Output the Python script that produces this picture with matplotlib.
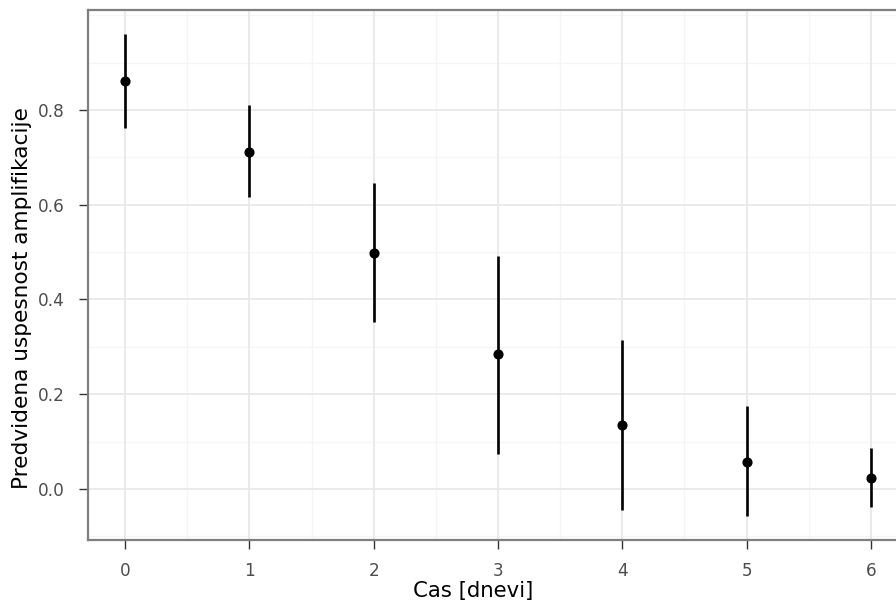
import matplotlib
matplotlib.use("Agg")
import matplotlib.pyplot as plt
import numpy as np

# Data
days = [0, 1, 2, 3, 4, 5, 6]
predicted = [0.861, 0.711, 0.498, 0.285, 0.135, 0.057, 0.023]
lower = [0.762, 0.616, 0.352, 0.074, -0.044, -0.057, -0.038]
upper = [0.960, 0.810, 0.646, 0.492, 0.314, 0.175, 0.086]

x_ticks = [0, 1, 2, 3, 4, 5, 6]
y_ticks = [0.0, 0.2, 0.4, 0.6, 0.8]
y_minor = [-0.1, 0.1, 0.3, 0.5, 0.7, 0.9, 1.0]
x_minor = [0.5, 1.5, 2.5, 3.5, 4.5, 5.5]

plt.rcParams['font.family'] = ['DejaVu Sans']

W, H = 896, 605
fig = plt.figure(figsize=(W / 100, H / 100), dpi=100)
left, right, top, bottom = 88, 908, 10, 540
ax = fig.add_axes([left / W, (H - bottom) / H, (right - left) / W, (bottom - top) / H])

ax.set_xlim(-0.298, 6.298)
ax.set_ylim(-0.1077, 1.011)

# grid
for v in y_minor:
    ax.axhline(v, color='#F5F5F5', lw=1.0, zorder=0)
for v in x_minor:
    ax.axvline(v, color='#F5F5F5', lw=1.0, zorder=0)
for v in y_ticks:
    ax.axhline(v, color='#E8E8E8', lw=1.3, zorder=0.5)
for v in x_ticks:
    ax.axvline(v, color='#E8E8E8', lw=1.3, zorder=0.5)

ax.vlines(days, lower, upper, color='black', lw=1.9, zorder=2)
ax.plot(days, predicted, 'o', color='black', ms=6.3, zorder=3)

ax.set_xticks(x_ticks)
ax.set_xticklabels([str(v) for v in x_ticks])
ax.set_yticks(y_ticks)
ax.set_yticklabels([f"{v:.1f}" for v in y_ticks])
ax.tick_params(axis='both', which='major', length=6.3, width=1.0, color='#333333',
               labelsize=12.2, labelcolor='#4D4D4D')
ax.tick_params(axis='x', pad=9.5)
ax.tick_params(axis='y', pad=10.8)

for s in ax.spines.values():
    s.set_color('#7F7F7F')
    s.set_linewidth(1.6)

fig.text(473 / W, (H - 597.5) / H, 'Cas [dnevi]', ha='center', va='baseline',
         fontsize=15.3, color='black')
fig.text(22 / W, (H - 298) / H, 'Predvidena uspesnost amplifikacije', ha='center',
         va='center', rotation=90, fontsize=15.6, color='black')

fig.savefig('out.png', dpi=100)
